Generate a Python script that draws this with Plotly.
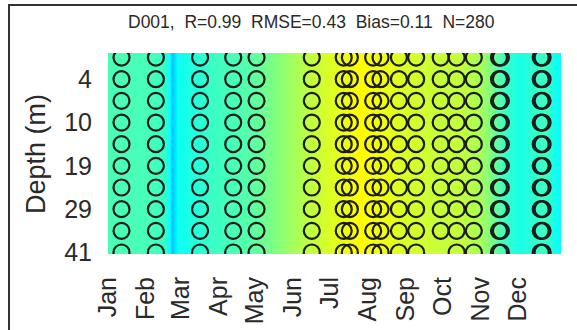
import plotly.graph_objects as go

# Month ticks (day of year of the 1st of each month)
month_days = [1, 32, 60, 91, 121, 152, 182, 213, 244, 274, 305, 335]
month_labels = ["Jan", "Feb", "Mar", "Apr", "May", "Jun",
                "Jul", "Aug", "Sep", "Oct", "Nov", "Dec"]

# Model layers: depth (m) of each layer, top to bottom
layer_depths = [1, 4, 7, 10, 14, 19, 24, 29, 35, 41]
depth_tick_layers = [2, 4, 6, 8, 10]
depth_tick_labels = ["4", "10", "19", "29", "41"]

# Modelled temperature (deg C) through the year, well mixed over depth
model_days = [2, 19, 36, 44, 49, 51.5, 53.5, 55.5, 58, 64, 72, 84, 100,
              116, 137, 149, 158, 174, 190, 198, 206, 215, 227, 239, 255,
              271, 288, 304, 312, 320, 328, 337, 345, 357, 365, 370]
model_temp = [13.4, 13.4, 13.3, 13.0, 12.3, 11.0, 9.6, 10.6, 11.6, 11.9,
              12.3, 12.9, 13.3, 13.8, 15.0, 15.9, 16.5, 17.3, 18.1, 18.5,
              18.9, 18.5, 18.3, 17.7, 17.4, 17.1, 17.0, 16.2, 15.0, 13.6,
              12.6, 11.9, 12.5, 13.1, 11.7, 11.3]

# Observation casts (day of year); each cast samples every layer
obs_days = [12, 40, 76, 103, 122, 167, 193, 198, 217, 223, 238, 252,
            272, 285, 299, 319.5, 321, 353.5, 355]
# (cast day, layer) pairs with no sample
missing = [(272, 10)]

stats_text = ("D001,\u00a0 R=0.99\u00a0 RMSE=0.43\u00a0 "
              "Bias=0.11\u00a0 N=280")

jet = [[0.0, "rgb(0,0,128)"], [0.125, "rgb(0,0,255)"],
       [0.375, "rgb(0,255,255)"], [0.625, "rgb(255,255,0)"],
       [0.875, "rgb(255,0,0)"], [1.0, "rgb(128,0,0)"]]

layers = list(range(1, len(layer_depths) + 1))
z = [model_temp for _ in layers]

obs_x, obs_y = [], []
for d in obs_days:
    for k in layers:
        if (d, k) in missing:
            continue
        obs_x.append(d)
        obs_y.append(k)

fig = go.Figure()
fig.add_trace(go.Heatmap(
    x=model_days, y=layers, z=z, colorscale=jet, zmin=0, zmax=30,
    zsmooth="best", showscale=False, hoverinfo="skip"))
fig.add_trace(go.Scatter(
    x=obs_x, y=obs_y, mode="markers", cliponaxis=True,
    marker=dict(symbol="circle-open", size=16, color="#1c1c1c",
                line=dict(width=2.2, color="#1c1c1c")),
    showlegend=False, hoverinfo="skip"))

L, R, T, B, W, H = 108, 16, 53, 76, 577, 330
pw, ph = W - L - R, H - T - B


def px(x):
    return (x - L) / pw


def py(y):
    return (H - B - y) / ph


font_family = "Liberation Sans, Arial, sans-serif"
tick_font = dict(family=font_family, size=25, color="#2a2a2a")

fig.update_layout(
    width=W, height=H, autosize=False,
    margin=dict(l=L, r=R, t=T, b=B, pad=0),
    paper_bgcolor="white", plot_bgcolor="white",
    xaxis=dict(range=[1, 370], tickvals=month_days, ticktext=month_labels,
               tickangle=-90, showgrid=False, zeroline=False,
               showline=False, ticks="", ticklabelstandoff=17,
               tickfont=tick_font, automargin=False),
    yaxis=dict(range=[10.07, 0.79], tickvals=depth_tick_layers,
               ticktext=depth_tick_labels, showgrid=False, zeroline=False,
               showline=False, ticks="", ticklabelstandoff=15,
               tickfont=tick_font, automargin=False),
    annotations=[
        dict(text=stats_text, x=px(311), y=py(22), xref="paper",
             yref="paper", showarrow=False, xanchor="center",
             yanchor="middle",
             font=dict(family=font_family, size=17.5, color="#2a2a2a")),
        dict(text="Depth (m)", x=px(36), y=py(154), xref="paper",
             yref="paper", showarrow=False, textangle=-90,
             xanchor="center", yanchor="middle",
             font=dict(family=font_family, size=27, color="#2a2a2a")),
    ],
    shapes=[dict(type="rect", xref="paper", yref="paper",
                 x0=px(9), x1=px(700), y0=py(500), y1=py(5),
                 line=dict(color="#333333", width=2))],
)

fig.write_html("out.html")
